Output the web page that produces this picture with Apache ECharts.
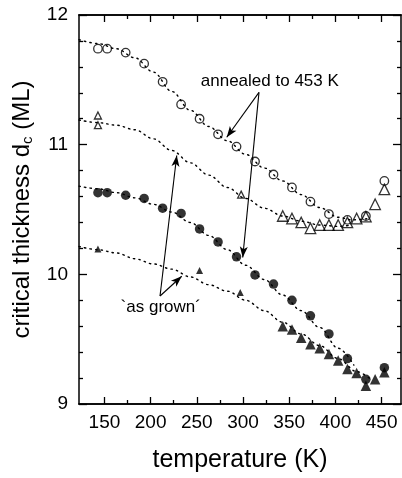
<!DOCTYPE html>
<html>
<head>
<meta charset="utf-8">
<script src="https://cdn.jsdelivr.net/npm/echarts@6/dist/echarts.min.js"></script>
<style>html,body{margin:0;padding:0;background:#fff}#c{width:402px;height:478px}</style>
</head>
<body>
<div id="c"></div>
<script>
// ---- data ----
const annealedCircT = [143,153,173,193,213,233,253,273,293,313,333,353,373,393,413,433,453];
const annealedCircV = [11.74,11.74,11.71,11.625,11.485,11.31,11.20,11.08,10.985,10.87,10.77,10.67,10.56,10.465,10.42,10.45,10.72];
const annealedTriT = [143,143,298,343,353,363,373,383,393,403,413,423,433,443,453];
const annealedTriV = [11.225,11.15,10.615,10.45,10.43,10.40,10.355,10.38,10.38,10.38,10.40,10.43,10.445,10.54,10.655];
const grownCircT = [143,153,173,193,213,233,253,273,293,313,333,353,373,393,413,433,453];
const grownCircV = [10.63,10.63,10.61,10.585,10.51,10.47,10.35,10.25,10.135,9.995,9.925,9.80,9.68,9.54,9.35,9.19,9.28];
const grownTriT = [143,253,297,343,353,363,373,383,393,403,413,423,433,443,453];
const grownTriV = [10.195,10.03,9.86,9.60,9.575,9.51,9.46,9.43,9.385,9.335,9.27,9.24,9.14,9.19,9.245];

// dotted guide curves
const fit1T = [122.5,143,163,183,203,223,243,263,283,303,323,343,363,383,403,418,435];
const fit1V = [11.81,11.78,11.74,11.67,11.56,11.41,11.265,11.14,11.03,10.925,10.82,10.72,10.615,10.515,10.44,10.42,10.43];
const fit2T = [122.5,143,163,183,203,223,243,263,283,303,323,343,363,383,403,418];
const fit2V = [11.19,11.17,11.15,11.115,11.045,10.955,10.86,10.765,10.67,10.585,10.51,10.45,10.41,10.38,10.37,10.38];
const fit3T = [122.5,143,163,183,203,223,243,263,283,303,323,343,363,383,403,420];
const fit3V = [10.68,10.66,10.63,10.59,10.54,10.48,10.40,10.30,10.19,10.07,9.96,9.84,9.72,9.59,9.43,9.30];
const fit4T = [122.5,143,163,183,203,223,243,263,283,303,323,343,363,383,403,423,440];
const fit4V = [10.215,10.19,10.165,10.12,10.08,10.04,9.98,9.92,9.87,9.80,9.72,9.63,9.54,9.45,9.35,9.25,9.18];

// axis ticks
const xMajorTicks = [150,200,250,300,350,400,450];
const xMinorTicks = [175,225,275,325,375,425];
const yTickLabels = [9,10,11,12];

// annotation anchors (data coordinates)
const annealedLabel = {text:'annealed to 453 K', at:[329, 11.49]};
const grownLabel = {text:'`as grown´', at:[211, 9.745]};
const arrowsAnnealed = [[[317.3,11.403],[282.4,11.057]],[[317.3,11.403],[299.7,10.13]]];
const arrowsGrown = [[[210.2,9.833],[228.3,10.916]],[[210.2,9.833],[233.7,9.985]]];

const zip = (a,b) => a.map((v,i)=>[v,b[i]]);
const FONT = "'Liberation Sans', Arial, sans-serif";
const XMIN = 122.5, XMAX = 471;

const chart = echarts.init(document.getElementById('c'));

function xAx(pos, ticks, len, showLabel, extra) {
  return Object.assign({
    type:'value', position:pos, min:XMIN, max:XMAX,
    axisLine:{show:true, onZero:false, lineStyle:{color:'#000', width:1.5}},
    axisTick:{show:true, inside:true, length:len, customValues:ticks, lineStyle:{color:'#000', width:1.3}},
    axisLabel:{show:showLabel, customValues:ticks, color:'#000', fontSize:19, fontFamily:FONT, margin:9},
    splitLine:{show:false}
  }, extra||{});
}
function yAx(pos, showLabel, extra) {
  return Object.assign({
    type:'value', position:pos, min:9, max:12, interval:1,
    axisLine:{show:true, onZero:false, lineStyle:{color:'#000', width:1.5}},
    axisTick:{show:true, inside:true, length:8, lineStyle:{color:'#000', width:1.3}},
    minorTick:{show:true, splitNumber:5, length:4, lineStyle:{color:'#000', width:1.3}},
    axisLabel:{show:showLabel, color:'#000', fontSize:19, fontFamily:FONT, margin:11,
      formatter:(v)=> yTickLabels.indexOf(v) >= 0 ? String(v) : ''},
    splitLine:{show:false}, minorSplitLine:{show:false}
  }, extra||{});
}

const dotted = {color:'#000', width:1.4, type:[1.4,4.2], cap:'round'};
function fitSeries(T,V){
  return {type:'line', data:zip(T,V), smooth:0.35, smoothMonotone:'x', showSymbol:false, symbol:'none',
    lineStyle:dotted, z:1, silent:true};
}
const openStyle = {color:'rgba(0,0,0,0)', borderColor:'#000', borderWidth:1.3};
const fillStyle = {color:'#000', borderColor:'#000', borderWidth:0};
const triSize = (v) => (v[0] < 320 ? 7 : 10.5);

const option = {
  animation:false,
  backgroundColor:'#fff',
  grid:{left:79, top:15, width:322, height:392, containLabel:false},
  xAxis:[
    xAx('bottom', xMajorTicks, 7, true, {
      name:'temperature (K)', nameLocation:'middle', nameGap:44,
      nameTextStyle:{color:'#000', fontSize:25, fontFamily:FONT}
    }),
    xAx('bottom', xMinorTicks, 4, false),
    xAx('top', xMajorTicks, 7, false),
    xAx('top', xMinorTicks, 4, false)
  ],
  yAxis:[
    yAx('left', true, {
      name:'{a|critical thickness d}{s|c}{a| (ML)}', nameLocation:'middle', nameGap:42,
      nameTextStyle:{color:'#000', fontFamily:FONT, fontSize:24,
        rich:{a:{fontSize:24, fontFamily:FONT, color:'#000', lineHeight:30},
              s:{fontSize:15, fontFamily:FONT, color:'#000', lineHeight:30, padding:[12,0,0,0]}}}
    }),
    yAx('right', false)
  ],
  series:[
    fitSeries(fit1T, fit1V),
    fitSeries(fit2T, fit2V),
    fitSeries(fit3T, fit3V),
    Object.assign(fitSeries(fit4T, fit4V), {
      markLine:{silent:true, symbol:['none','arrow'], symbolSize:[6,11], precision:3,
        label:{show:false}, lineStyle:{color:'#000', width:1.1, type:'solid'},
        data: arrowsAnnealed.concat(arrowsGrown).map(a=>[{coord:a[0]},{coord:a[1]}])},
      markPoint:{silent:true, symbol:'rect', symbolSize:0,
        data:[annealedLabel, grownLabel].map(l=>({coord:l.at, value:l.text,
          label:{show:true, position:'inside', formatter:l.text, color:'#000', fontSize:17, fontFamily:FONT}}))}
    }),
    {type:'scatter', data:zip(annealedCircT, annealedCircV), symbol:'circle', symbolSize:8.5, itemStyle:openStyle, z:3},
    {type:'scatter', data:zip(annealedTriT, annealedTriV), symbol:'triangle', symbolSize:triSize, itemStyle:openStyle, z:3},
    {type:'scatter', data:zip(grownCircT, grownCircV), symbol:'circle', symbolSize:9.5, itemStyle:fillStyle, z:3},
    {type:'scatter', data:zip(grownTriT, grownTriV), symbol:'triangle', symbolSize:triSize, itemStyle:fillStyle, z:3}
  ]
};
chart.setOption(option);
</script>
</body>
</html>
